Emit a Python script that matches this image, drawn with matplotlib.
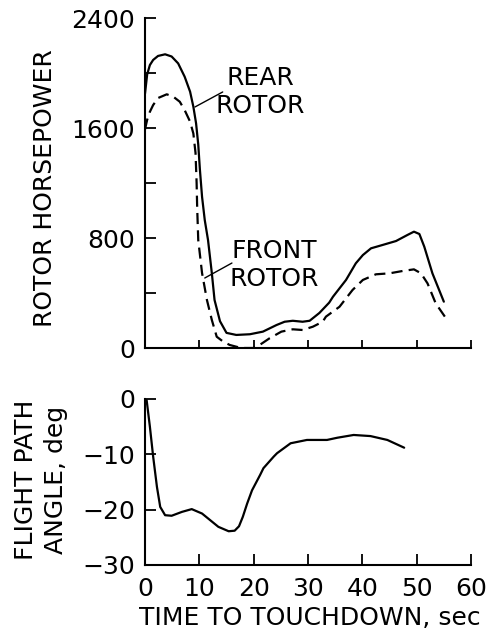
import matplotlib
matplotlib.use("Agg")
import matplotlib.pyplot as plt
from matplotlib.ticker import FuncFormatter

plt.rcParams['font.family'] = ['DejaVu Sans']

# Rotor horsepower vs time to touchdown (sec)
rear_t = [0, 0.4, 0.9, 1.5, 2.4, 3.7, 4.9, 6.1, 7.3, 8.3, 8.9, 9.4, 9.8, 10.1, 10.5,
          11.0, 11.6, 12.3, 12.8, 13.8, 15.0, 16.8, 19.3, 21.7, 24.2, 25.7, 27.2,
          29.0, 30.3, 32.1, 33.9, 34.6, 37.0, 38.8, 40.1, 41.6, 43.7, 46.2, 48.3,
          49.5, 50.5, 51.4, 52.9, 55.0]
rear_hp = [1850, 1990, 2058, 2095, 2124, 2136, 2120, 2070, 1973, 1864, 1755, 1634,
           1480, 1300, 1100, 930, 785, 545, 349, 195, 110, 95, 100, 119, 167, 191,
           198, 191, 198, 255, 330, 373, 495, 616, 676, 725, 749, 778, 822, 846, 829,
           737, 543, 337]

front_t = [0, 0.4, 0.9, 1.5, 2.4, 4.0, 5.2, 6.4, 7.3, 8.3, 8.9, 9.3, 9.5, 9.6, 9.8,
           10.5, 11.4, 12.3, 13.2, 14.4, 15.6, 17.7, 19.9, 21.1, 22.9, 25.1, 27.2,
           29.0, 30.9, 32.7, 33.3, 35.8, 38.2, 40.1, 42.5, 45.0, 47.4, 49.5, 50.8,
           52.0, 53.5, 55.4]
front_hp = [1590, 1660, 1718, 1767, 1818, 1845, 1828, 1791, 1730, 1646, 1560, 1418,
            1200, 1025, 785, 545, 349, 204, 82, 46, 22, 0, 0, 22, 70, 119, 136, 131,
            155, 191, 228, 300, 422, 495, 536, 543, 560, 572, 543, 470, 325, 216]

# Flight path angle (deg) vs time to touchdown (sec)
fpa_t = [0, 0.3, 0.9, 1.5, 2.2, 2.8, 3.7, 4.9, 6.8, 8.6, 10.5, 12.0, 13.5, 15.4, 16.5,
         17.3, 18.0, 18.8, 19.7, 21.2, 21.8, 23.7, 24.3, 26.8, 29.8, 33.5, 35.4,
         38.4, 41.5, 44.6, 47.7]
fpa_deg = [0, -0.2, -5.0, -10.4, -15.9, -19.5, -21.0, -21.1, -20.4, -19.9, -20.7,
           -21.9, -23.1, -23.9, -23.8, -23.0, -21.3, -18.9, -16.5, -13.7, -12.5,
           -10.4, -9.8, -8.0, -7.4, -7.4, -7.0, -6.5, -6.7, -7.4, -8.8]

hp_ticks = [0, 400, 800, 1200, 1600, 2000, 2400]
hp_labels = [0, 800, 1600, 2400]
fpa_ticks = [0, -10, -20, -30]
fpa_ticklabels = ["0", "\u221210", "\u221220", "\u221230"]
time_ticks = [0, 10, 20, 30, 40, 50, 60]

W, H = 490, 632
fig = plt.figure(figsize=(W / 100, H / 100), dpi=100)

def px_rect(x0, x1, y_top, y_bot):
    return [x0 / W, 1 - y_bot / H, (x1 - x0) / W, (y_bot - y_top) / H]

ax1 = fig.add_axes(px_rect(145, 471, 18, 348))
ax2 = fig.add_axes(px_rect(145, 471, 399, 565))

lw = 1.6
fs = 18

ax1.plot(rear_t, rear_hp, color='black', lw=lw, solid_joinstyle='round',
         solid_capstyle='round')
ax1.plot(front_t, front_hp, color='black', lw=lw, dashes=(5, 2.8))
ax2.plot(fpa_t, fpa_deg, color='black', lw=lw, solid_joinstyle='round',
         solid_capstyle='round')

for ax in (ax1, ax2):
    ax.spines['top'].set_visible(False)
    ax.spines['right'].set_visible(False)
    for s in ('left', 'bottom'):
        ax.spines[s].set_linewidth(1.5)
    ax.set_xlim(0, 60)
    ax.set_xticks(time_ticks)
    ax.tick_params(direction='in', width=1.3, labelsize=fs)
    ax.patch.set_alpha(0)

ax1.set_ylim(0, 2400)
ax1.set_yticks(hp_ticks)
ax1.yaxis.set_major_formatter(
    FuncFormatter(lambda v, p: f"{int(v)}" if int(v) in hp_labels else ""))
ax1.tick_params(axis='y', length=8, pad=7)
ax1.tick_params(axis='x', length=6, labelbottom=False)

ax2.set_ylim(-30, 0)
ax2.set_yticks(fpa_ticks)
ax2.set_yticklabels(fpa_ticklabels)
ax2.tick_params(axis='y', length=8, pad=7)
ax2.tick_params(axis='x', length=8, pad=9)
ax2.set_xticklabels([str(v) for v in time_ticks])

# Axis titles
fig.text(45 / W, 1 - 188 / H, "ROTOR HORSEPOWER", rotation=90, ha='center',
         va='center', fontsize=fs)
fig.text(41 / W, 1 - 480 / H, "FLIGHT PATH\nANGLE, deg", rotation=90, ha='center',
         va='center', fontsize=fs, linespacing=1.3)
fig.text(310 / W, 1 - 618 / H, "TIME TO TOUCHDOWN, sec", ha='center', va='center',
         fontsize=fs)

# Curve callouts
fig.text(260 / W, 1 - 92 / H, "REAR\nROTOR", ha='center', va='center', fontsize=fs,
         linespacing=1.25)
ax1.annotate("", xy=(9.2, 1753), xytext=(14.3, 1862),
             arrowprops=dict(arrowstyle='-', lw=1.0, color='black', shrinkA=0, shrinkB=0))
fig.text(274 / W, 1 - 265 / H, "FRONT\nROTOR", ha='center', va='center', fontsize=fs,
         linespacing=1.25)
ax1.annotate("", xy=(11.0, 509), xytext=(16.0, 618),
             arrowprops=dict(arrowstyle='-', lw=1.0, color='black', shrinkA=0, shrinkB=0))

fig.savefig("out.png", dpi=100, facecolor='white')
